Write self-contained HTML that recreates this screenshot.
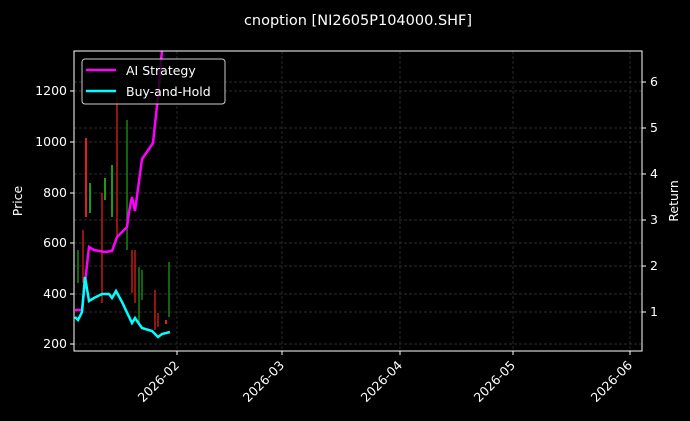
<!DOCTYPE html>
<html><head><meta charset="utf-8"><style>
html,body{margin:0;padding:0;background:#000;}
svg{display:block;font-family:"DejaVu Sans","Liberation Sans",sans-serif;}
</style></head><body>
<svg width="690" height="421" viewBox="0 0 690 421" xmlns="http://www.w3.org/2000/svg">
<rect width="690" height="421" fill="#000"/>
<text x="358" y="25" fill="#fff" font-size="14.5" text-anchor="middle">cnoption [NI2605P104000.SHF]</text>
<!-- grid -->
<g stroke="#3a3a3a" stroke-width="0.7" stroke-dasharray="3,2">
<line x1="74" x2="642" y1="91" y2="91"/><line x1="74" x2="642" y1="142" y2="142"/>
<line x1="74" x2="642" y1="193" y2="193"/><line x1="74" x2="642" y1="243" y2="243"/>
<line x1="74" x2="642" y1="294" y2="294"/><line x1="74" x2="642" y1="344" y2="344"/>
<line x1="74" x2="642" y1="82" y2="82"/><line x1="74" x2="642" y1="128" y2="128"/>
<line x1="74" x2="642" y1="174" y2="174"/><line x1="74" x2="642" y1="220" y2="220"/>
<line x1="74" x2="642" y1="266" y2="266"/><line x1="74" x2="642" y1="312" y2="312"/>
<line y1="51" y2="351" x1="177" x2="177"/><line y1="51" y2="351" x1="282" x2="282"/>
<line y1="51" y2="351" x1="400" x2="400"/><line y1="51" y2="351" x1="513" x2="513"/>
<line y1="51" y2="351" x1="630" x2="630"/>
</g>
<!-- candles -->
<g stroke-width="1.3">
<line x1="78" x2="78" y1="250" y2="283" stroke="#1a9a1a"/>
<line x1="83" x2="83" y1="230" y2="283" stroke="#e0201a"/>
<line x1="86" x2="86" y1="138" y2="217" stroke="#e0201a" stroke-width="2"/>
<line x1="90" x2="90" y1="183" y2="213" stroke="#1a9a1a" stroke-width="2"/>
<line x1="102" x2="102" y1="193" y2="303" stroke="#e0201a"/>
<line x1="105" x2="105" y1="178" y2="200" stroke="#1a9a1a" stroke-width="2"/>
<line x1="112" x2="112" y1="165" y2="217" stroke="#1a9a1a" stroke-width="2"/>
<line x1="117" x2="117" y1="95" y2="237" stroke="#e0201a"/>
<line x1="127" x2="127" y1="120" y2="250" stroke="#1a9a1a"/>
<line x1="132" x2="132" y1="250" y2="293" stroke="#e0201a"/>
<line x1="135" x2="135" y1="250" y2="303" stroke="#e0201a"/>
<line x1="139" x2="139" y1="267" y2="323" stroke="#1a9a1a"/>
<line x1="142" x2="142" y1="270" y2="300" stroke="#1a9a1a"/>
<line x1="155" x2="155" y1="290" y2="330" stroke="#e0201a"/>
<line x1="158" x2="158" y1="313" y2="327" stroke="#e0201a"/>
<line x1="166" x2="166" y1="320" y2="324" stroke="#e0201a" stroke-width="2"/>
<line x1="169" x2="169" y1="262" y2="317" stroke="#1a9a1a"/>
</g>
<polyline fill="none" stroke="#ff00ff" stroke-width="2.5" points="75,310 82,310 89,247 94,250 105,252 112,251 117,237 127,227 129,212 132,197 135,211 142,159 153,143 159,87 160,70 162,51"/>
<polyline fill="none" stroke="#00ffff" stroke-width="2.5" points="75,317 78,320 82,312 85,277 89,301 94,298 102,294 109,294 112,298 116,291 122,302 132,323 135,318 142,328 152,331 158,337 162,334 170,332"/>
<!-- frame -->
<rect x="74" y="51" width="568" height="300" fill="none" stroke="#fff" stroke-width="1"/>
<g stroke="#fff"><line x1="70" x2="74" y1="91" y2="91"/><line x1="70" x2="74" y1="142" y2="142"/><line x1="70" x2="74" y1="193" y2="193"/><line x1="70" x2="74" y1="243" y2="243"/><line x1="70" x2="74" y1="294" y2="294"/><line x1="70" x2="74" y1="344" y2="344"/>
<line x1="642" x2="646" y1="82" y2="82"/><line x1="642" x2="646" y1="128" y2="128"/><line x1="642" x2="646" y1="174" y2="174"/><line x1="642" x2="646" y1="220" y2="220"/><line x1="642" x2="646" y1="266" y2="266"/><line x1="642" x2="646" y1="312" y2="312"/>
<line y1="351" y2="355" x1="177" x2="177"/><line y1="351" y2="355" x1="282" x2="282"/><line y1="351" y2="355" x1="400" x2="400"/><line y1="351" y2="355" x1="513" x2="513"/><line y1="351" y2="355" x1="630" x2="630"/></g>
<g fill="#fff" font-size="12.5" text-anchor="end">
<text x="67" y="95">1200</text><text x="67" y="146">1000</text><text x="67" y="197">800</text><text x="67" y="247">600</text><text x="67" y="298">400</text><text x="67" y="348">200</text>
</g>
<g fill="#fff" font-size="12.5">
<text x="650" y="86">6</text><text x="650" y="132">5</text><text x="650" y="178">4</text><text x="650" y="224">3</text><text x="650" y="270">2</text><text x="650" y="316">1</text>
</g>
<text transform="translate(22,201) rotate(-90)" fill="#fff" font-size="12.5" text-anchor="middle">Price</text>
<text transform="translate(678,201) rotate(-90)" fill="#fff" font-size="12.5" text-anchor="middle">Return</text>
<g fill="#fff" font-size="12.5" text-anchor="end">
<text transform="translate(180,366) rotate(-45)">2026-02</text>
<text transform="translate(285,366) rotate(-45)">2026-03</text>
<text transform="translate(403,366) rotate(-45)">2026-04</text>
<text transform="translate(516,366) rotate(-45)">2026-05</text>
<text transform="translate(633,366) rotate(-45)">2026-06</text>
</g>
<!-- legend -->
<rect x="82" y="59" width="143" height="45" rx="3" fill="#000" fill-opacity="0.8" stroke="#ccc" stroke-width="1"/>
<line x1="86" x2="116" y1="70" y2="70" stroke="#ff00ff" stroke-width="2.5"/>
<line x1="86" x2="116" y1="91" y2="91" stroke="#00ffff" stroke-width="2.5"/>
<text x="126" y="75" fill="#fff" font-size="12.5">AI Strategy</text>
<text x="126" y="96" fill="#fff" font-size="12.5">Buy-and-Hold</text>
</svg>
</body></html>
